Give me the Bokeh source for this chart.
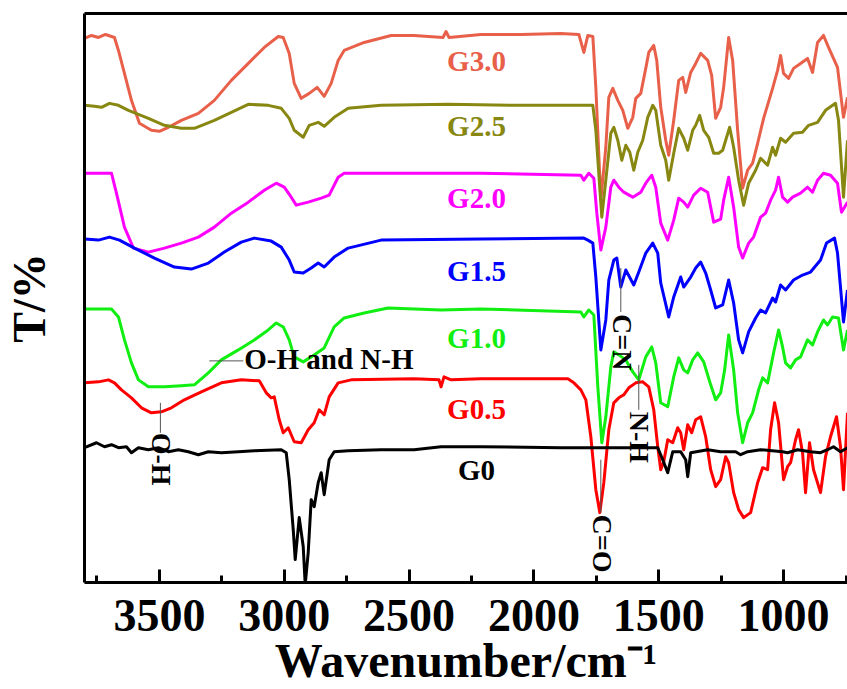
import math
from bokeh.plotting import figure
from bokeh.models import Range1d, FixedTicker, LinearAxis
from bokeh.core.properties import value
from bokeh.embed import file_html
from bokeh.resources import INLINE

FONT = "Liberation Serif"

# ---------------- data (wavenumber cm-1, transmittance a.u.) ----------------
g30_wn = [3800, 3772, 3744, 3716, 3680, 3664, 3640, 3612, 3580, 3532, 3500, 3464, 3412, 3344, 3280, 3212,
          3144, 3080, 3024, 3004, 2980, 2960, 2932, 2900, 2868, 2840, 2812, 2784, 2760, 2680, 2572, 2480,
          2364, 2352, 2340, 2212, 2052, 1892, 1820, 1800, 1784, 1764, 1752, 1732, 1712, 1700, 1684, 1664,
          1644, 1624, 1604, 1592, 1572, 1552, 1540, 1520, 1508, 1492, 1472, 1460, 1440, 1420, 1404, 1392,
          1372, 1352, 1332, 1304, 1288, 1272, 1252, 1240, 1220, 1204, 1184, 1164, 1144, 1124, 1104, 1080,
          1044, 1024, 1012, 1000, 980, 960, 932, 904, 884, 864, 840, 820, 784, 760, 744]
g30_t = [545, 548, 546, 549, 546, 533, 510, 483, 460, 453, 452, 456, 463, 470, 483, 503,
         520, 536, 547, 546, 530, 500, 485, 490, 496, 487, 500, 523, 533, 541, 548, 548,
         546, 552, 546, 549, 549, 550, 549, 531, 548, 547, 496, 383, 436, 486, 495, 483,
         473, 455, 466, 485, 490, 515, 531, 538, 523, 476, 443, 428, 463, 503, 506, 491,
         511, 520, 530, 523, 508, 465, 476, 496, 546, 523, 453, 395, 413, 420, 440, 465,
         495, 513, 528, 510, 505, 515, 520, 525, 511, 541, 548, 536, 516, 466, 486]

g25_wn = [3800, 3760, 3732, 3700, 3664, 3624, 3544, 3480, 3412, 3360, 3280, 3212, 3144, 3064, 3012, 2980,
          2960, 2924, 2900, 2864, 2840, 2800, 2744, 2612, 2344, 2052, 1788, 1764, 1752, 1728, 1712, 1692,
          1680, 1664, 1648, 1632, 1616, 1600, 1584, 1564, 1544, 1524, 1512, 1492, 1472, 1460, 1440, 1420,
          1400, 1384, 1364, 1352, 1336, 1320, 1300, 1280, 1260, 1244, 1216, 1200, 1180, 1160, 1140, 1112,
          1092, 1064, 1044, 1032, 1012, 992, 960, 924, 900, 864, 832, 792, 780, 760, 744]
g25_t = [478, 477, 476, 480, 478, 473, 465, 458, 455, 455, 463, 471, 479, 478, 475, 465,
         453, 446, 458, 461, 457, 466, 475, 478, 479, 478, 478, 478, 453, 366, 403, 450,
         456, 443, 423, 438, 431, 413, 431, 443, 466, 478, 473, 438, 423, 403, 430, 455,
         445, 433, 453, 458, 468, 453, 446, 430, 430, 433, 456, 436, 403, 378, 400, 413,
         425, 418, 436, 428, 445, 441, 450, 451, 458, 461, 473, 480, 463, 386, 443]

g20_wn = [3800, 3692, 3672, 3640, 3604, 3544, 3480, 3412, 3344, 3280, 3212, 3144, 3080, 3032, 3000, 2972,
          2952, 2904, 2852, 2820, 2784, 2760, 2612, 2212, 1812, 1800, 1780, 1760, 1748, 1732, 1712, 1692,
          1680, 1660, 1640, 1604, 1572, 1552, 1528, 1512, 1492, 1464, 1440, 1420, 1400, 1384, 1360, 1332,
          1304, 1280, 1252, 1240, 1220, 1200, 1180, 1164, 1140, 1120, 1092, 1072, 1052, 1032, 1020, 1004,
          984, 964, 932, 904, 884, 864, 840, 812, 784, 768, 744]
g20_t = [410, 410, 390, 356, 335, 331, 335, 340, 346, 356, 370, 381, 393, 400, 396, 386,
         378, 381, 385, 388, 406, 410, 410, 410, 408, 403, 410, 405, 370, 333, 356, 396,
         403, 396, 391, 386, 391, 400, 408, 396, 360, 343, 363, 385, 381, 376, 388, 395,
         391, 361, 364, 383, 406, 376, 336, 325, 340, 346, 366, 370, 383, 393, 406, 386,
         381, 386, 390, 396, 391, 403, 410, 408, 400, 371, 381]

g15_wn = [3800, 3744, 3700, 3660, 3600, 3520, 3440, 3372, 3304, 3240, 3172, 3120, 3052, 3012, 2980, 2960,
          2924, 2892, 2864, 2840, 2800, 2744, 2612, 2212, 1800, 1784, 1764, 1752, 1732, 1712, 1700, 1680,
          1668, 1652, 1632, 1600, 1580, 1552, 1524, 1504, 1492, 1460, 1440, 1412, 1400, 1372, 1352, 1332,
          1312, 1292, 1272, 1244, 1220, 1200, 1180, 1164, 1140, 1112, 1092, 1072, 1044, 1032, 1012, 992,
          960, 924, 892, 852, 828, 796, 784, 760, 744]
g15_t = [344, 343, 346, 343, 335, 325, 316, 314, 320, 331, 341, 345, 342, 336, 323, 311,
         310, 315, 320, 316, 326, 335, 343, 344, 345, 343, 340, 306, 233, 263, 303, 323,
         325, 296, 313, 298, 311, 330, 340, 330, 300, 266, 286, 306, 296, 306, 315, 321,
         310, 293, 275, 278, 303, 280, 243, 230, 251, 265, 273, 270, 285, 281, 298, 293,
         303, 308, 311, 323, 340, 345, 330, 261, 293]

g10_wn = [3800, 3692, 3664, 3640, 3612, 3584, 3544, 3480, 3412, 3360, 3304, 3252, 3184, 3120, 3064, 3032,
          3004, 2980, 2960, 2924, 2892, 2840, 2800, 2760, 2680, 2584, 2372, 2212, 1812, 1800, 1780, 1760,
          1744, 1728, 1712, 1692, 1680, 1660, 1632, 1604, 1580, 1552, 1528, 1512, 1492, 1464, 1440, 1420,
          1400, 1384, 1364, 1344, 1320, 1292, 1272, 1252, 1236, 1220, 1200, 1184, 1164, 1144, 1124, 1100,
          1084, 1064, 1040, 1020, 1004, 992, 972, 952, 932, 904, 884, 864, 840, 824, 804, 780, 760, 744]
g10_t = [274, 274, 266, 243, 220, 203, 196, 196, 197, 198, 210, 223, 233, 243, 253, 260,
         256, 243, 226, 221, 226, 235, 256, 265, 270, 275, 273, 274, 271, 266, 273, 268,
         196, 140, 166, 216, 231, 228, 223, 211, 203, 226, 236, 220, 180, 176, 206, 225,
         213, 210, 223, 230, 221, 198, 183, 190, 213, 248, 213, 170, 140, 160, 170, 193,
         205, 200, 230, 253, 236, 220, 215, 223, 226, 243, 238, 251, 263, 258, 266, 265, 233, 253]

g05_wn = [3800, 3744, 3704, 3680, 3652, 3612, 3572, 3532, 3492, 3452, 3400, 3332, 3252, 3172, 3100, 3072,
          3052, 3040, 3020, 3004, 2984, 2960, 2932, 2904, 2880, 2860, 2840, 2820, 2784, 2732, 2480, 2380,
          2372, 2360, 2332, 2212, 1864, 1840, 1812, 1792, 1772, 1752, 1736, 1720, 1700, 1680, 1660, 1640,
          1620, 1592, 1564, 1540, 1520, 1504, 1492, 1480, 1464, 1444, 1424, 1412, 1400, 1384, 1368, 1352,
          1332, 1312, 1292, 1272, 1252, 1232, 1220, 1200, 1180, 1160, 1132, 1104, 1084, 1064, 1052, 1036,
          1020, 1000, 984, 972, 952, 940, 924, 912, 896, 880, 852, 832, 812, 788, 772, 760, 744]
g05_t = [200, 201, 203, 200, 193, 185, 175, 170, 171, 175, 183, 191, 200, 203, 202, 190,
         185, 186, 163, 150, 155, 141, 140, 153, 160, 173, 168, 186, 200, 203, 204, 203,
         196, 206, 203, 204, 204, 200, 193, 183, 146, 93, 70, 100, 153, 180, 185, 188,
         195, 200, 201, 196, 173, 136, 113, 121, 143, 140, 155, 150, 133, 158, 150, 163,
         166, 146, 113, 96, 103, 126, 120, 90, 73, 65, 70, 100, 115, 113, 153, 180,
         160, 103, 116, 120, 143, 153, 130, 90, 140, 113, 90, 126, 146, 166, 136, 93, 170]

g0_wn = [3800, 3752, 3720, 3692, 3664, 3632, 3612, 3584, 3544, 3504, 3464, 3424, 3384, 3344, 3304, 3252,
         3184, 3120, 3012, 2992, 2980, 2964, 2956, 2940, 2924, 2916, 2904, 2892, 2880, 2864, 2852, 2840,
         2820, 2800, 2744, 2612, 2480, 2372, 2212, 1892, 1520, 1504, 1484, 1464, 1444, 1412, 1392, 1384,
         1372, 1304, 1252, 1192, 1172, 1144, 1092, 1004, 984, 944, 892, 852, 824, 800, 772, 744]
g0_t = [135, 140, 136, 138, 135, 136, 130, 135, 133, 135, 131, 133, 131, 128, 131, 130,
        131, 132, 133, 130, 103, 53, 23, 65, 36, -2, 30, 83, 76, 100, 110, 88,
        123, 131, 132, 133, 133, 136, 136, 135, 135, 135, 123, 110, 131, 131, 123, 106,
        130, 133, 131, 131, 128, 131, 133, 131, 130, 133, 131, 130, 133, 136, 131, 135]

series_names = ["G3.0", "G2.5", "G2.0", "G1.5", "G1.0", "G0.5", "G0"]
series_colors = ["#E8604A", "#878711", "#FF00FF", "#0000FF", "#11EE11", "#FF0000", "#000000"]
series_wn = [g30_wn, g25_wn, g20_wn, g15_wn, g10_wn, g05_wn, g0_wn]
series_t = [g30_t, g25_t, g20_t, g15_t, g10_t, g05_t, g0_t]
label_wn = [2230, 2230, 2230, 2230, 2230, 2230, 2230]
label_t = [522, 457, 385, 312, 245, 174, 113]

ann_text = ["O-H", "C=O", "C=N", "N-H"]
ann_wn = [3492, 1724, 1646, 1576]
ann_t = [150, 68, 269, 171]
lead_x = [3496, 1732, 1652, 1580]
lead_t0 = [180, 123, 315, 218]
lead_t1 = [150, 70, 271, 173]

band_text = "O-H and N-H"
band_wn = 3160
band_t = 224
band_lead_x = [3300, 3164]

x_major = [3500, 3000, 2500, 2000, 1500, 1000]
x_minor = [3750, 3250, 2750, 2250, 1750, 1250, 750]
x_title = "Wavenumber/cm\u207b\u00b9"
y_title = "T/%"

# ---------------- figure ----------------
p = figure(width=847, height=689, x_range=Range1d(3800, 744), y_range=Range1d(0, 570),
           output_backend="svg", toolbar_location=None,
           min_border_left=83, min_border_right=0, min_border_top=13, min_border_bottom=106)
p.outline_line_color = None
p.grid.visible = False
p.background_fill_color = "white"
p.border_fill_color = "white"

xa = p.xaxis[0]
xa.ticker = FixedTicker(ticks=x_major, minor_ticks=x_minor)
xa.axis_line_width = 3
xa.major_tick_line_width = 3
xa.minor_tick_line_width = 3
xa.major_tick_in = 13
xa.major_tick_out = 0
xa.minor_tick_in = 7
xa.minor_tick_out = 0
xa.major_label_text_font = FONT
xa.major_label_text_font_style = "bold"
xa.major_label_text_font_size = "46px"
xa.major_label_text_color = "black"
xa.major_label_standoff = 17
xa.axis_label = x_title
xa.axis_label_text_font = FONT
xa.axis_label_text_font_style = "bold"
xa.axis_label_text_font_size = "48px"
xa.axis_label_text_color = "black"
xa.axis_label_standoff = 0

ya = p.yaxis[0]
ya.ticker = FixedTicker(ticks=[])
ya.axis_line_width = 3
ya.major_tick_line_color = None
ya.minor_tick_line_color = None
ya.major_tick_out = 0
ya.major_label_text_font_size = "0px"
ya.major_label_standoff = 0
ya.axis_label = y_title
ya.axis_label_text_font = FONT
ya.axis_label_text_font_style = "bold"
ya.axis_label_text_font_size = "46px"
ya.axis_label_text_color = "black"
ya.axis_label_standoff = 30

top = LinearAxis(ticker=FixedTicker(ticks=[]), axis_line_width=3, major_tick_line_color=None,
                 minor_tick_line_color=None, major_label_text_font_size="0px")
p.add_layout(top, "above")

for wn, t, c in zip(series_wn, series_t, series_colors):
    p.line(wn, t, line_color=c, line_width=3, line_join="round")

# series labels
p.text(x=label_wn, y=label_t, text=series_names, text_color=series_colors,
       text_font=value(FONT), text_font_style="bold", text_font_size="29px",
       text_align="center", text_baseline="middle")

# leader lines
p.segment(x0=lead_x, y0=lead_t0, x1=lead_x, y1=lead_t1, line_color="#555555", line_width=1)
p.segment(x0=[band_lead_x[0]], y0=[band_t - 2], x1=[band_lead_x[1]], y1=[band_t - 2],
          line_color="#555555", line_width=1)

# rotated band annotations
p.text(x=ann_wn, y=ann_t, text=ann_text, angle=-math.pi / 2, text_color="black",
       text_font=value(FONT), text_font_style="bold", text_font_size="28px",
       text_align="left", text_baseline="middle")
p.text(x=[band_wn], y=[band_t], text=[band_text], text_color="black",
       text_font=value(FONT), text_font_style="bold", text_font_size="29px",
       text_align="left", text_baseline="middle")

open("out.html", "w").write(file_html(p, INLINE))
